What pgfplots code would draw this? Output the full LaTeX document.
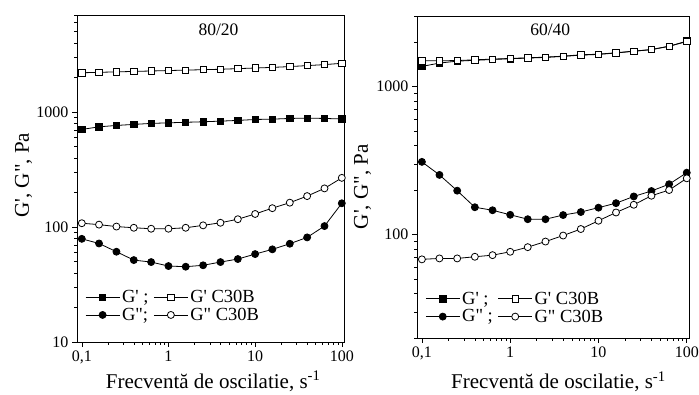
\documentclass[border=0pt]{standalone}
\usepackage{fontspec}
\setmainfont{Liberation Serif}
\usepackage{pgfplots}
\pgfplotsset{compat=1.18}
\newcommand\p{\textquotesingle}
\newcommand\q{\textquotedbl}
\tikzset{
  fsq/.style={mark=square*, mark size=3.2pt, mark options={fill=black, solid}},
  osq/.style={mark=square*, mark size=3.2pt, mark options={fill=white, solid}},
  fci/.style={mark=*, mark size=3.5pt, mark options={fill=black, solid}},
  oci/.style={mark=*, mark size=3.5pt, mark options={fill=white, solid}},
}
\begin{document}
\begin{tikzpicture}
\useasboundingbox (0pt,0pt) rectangle (699pt,394pt);
\begin{axis}[xmode=log, ymode=log, scale only axis,
    xmin=0.088, xmax=106,
    xtick={0.1,1,10,100}, xticklabels={{0,1},1,10,100},
    minor xtick={0.2,0.3,0.4,0.5,0.6,0.7,0.8,0.9,2,3,4,5,6,7,8,9,20,30,40,50,60,70,80,90},
    tick align=outside, xtick pos=left, ytick pos=left,
    major tick length=5pt, minor tick length=3pt,
    tick style={black, line width=0.6pt},
    axis line style={line width=0.9pt},
    every tick label/.append style={font=\fontsize{16}{18}\selectfont},
    label style={font=\fontsize{21}{24}\selectfont},
    xlabel={Frecventă de oscilatie, s\textsuperscript{-1}},
    ylabel={G\p, G\q, Pa},
    xlabel style={at={(axis description cs:0.51,-0.141)}, anchor=base},
    ylabel style={at={(axis description cs:-0.20,0.51)}, anchor=center},
    legend columns=2,
    legend cell align=left,
    legend style={draw=none, fill=none, inner sep=0pt, font=\fontsize{18.5}{21}\selectfont, anchor=north west,
      /tikz/every even column/.append style={column sep=3pt}, at={(0.03,0.165)}},
    legend image code/.code={\draw[mark repeat=2,mark phase=2] plot coordinates {(0pt,0pt) (17pt,0pt) (34pt,0pt)};},
    every axis plot/.append style={black, line width=0.8pt},
  at={(77pt,52pt)}, anchor=south west, width=267pt, height=327pt,
  ymin=10, ymax=7000, ytick={10,100,1000}, yticklabels={10,100,1000},
  minor ytick={20,30,40,50,60,70,80,90,200,300,400,500,600,700,800,900,2000,3000,4000,5000,6000,7000}]
\addplot[fsq] coordinates {(0.1,707)(0.158,745)(0.251,766)(0.398,782)(0.631,798)(1,807)(1.58,816)(2.51,824)(3.98,835)(6.31,847)(10,863)(15.8,869)(25.1,881)(39.8,887)(63.1,881)(100,872)};
\addlegendentry{G\p\ ;}
\addplot[osq] coordinates {(0.1,2200)(0.158,2220)(0.251,2240)(0.398,2260)(0.631,2280)(1,2300)(1.58,2320)(2.51,2340)(3.98,2360)(6.31,2390)(10,2420)(15.8,2450)(25.1,2490)(39.8,2540)(63.1,2590)(100,2660)};
\addlegendentry{G\p\ C30B}
\addplot[fci] coordinates {(0.1,79)(0.158,72)(0.251,61)(0.398,51.6)(0.631,49.6)(1,45.8)(1.58,45.2)(2.51,46.5)(3.98,49.6)(6.31,52.7)(10,58.2)(15.8,64)(25.1,71.6)(39.8,81.3)(63.1,102)(100,161)};
\addlegendentry{G\q;}
\addplot[oci] coordinates {(0.1,108)(0.158,105)(0.251,101)(0.398,98.6)(0.631,96.7)(1,96.7)(1.58,98.6)(2.51,103.5)(3.98,109)(6.31,117)(10,130)(15.8,146)(25.1,163)(39.8,186)(63.1,217)(100,268)};
\addlegendentry{G\q\ C30B}
\node[font=\fontsize{17.5}{20}\selectfont, anchor=north, inner sep=0pt] at (rel axis cs:0.53,0.975) {80/20};
\end{axis}
\begin{axis}[xmode=log, ymode=log, scale only axis,
    xmin=0.088, xmax=106,
    xtick={0.1,1,10,100}, xticklabels={{0,1},1,10,100},
    minor xtick={0.2,0.3,0.4,0.5,0.6,0.7,0.8,0.9,2,3,4,5,6,7,8,9,20,30,40,50,60,70,80,90},
    tick align=outside, xtick pos=left, ytick pos=left,
    major tick length=5pt, minor tick length=3pt,
    tick style={black, line width=0.6pt},
    axis line style={line width=0.9pt},
    every tick label/.append style={font=\fontsize{16}{18}\selectfont},
    label style={font=\fontsize{21}{24}\selectfont},
    xlabel={Frecventă de oscilatie, s\textsuperscript{-1}},
    ylabel={G\p, G\q, Pa},
    xlabel style={at={(axis description cs:0.52,-0.158)}, anchor=base},
    ylabel style={at={(axis description cs:-0.20,0.47)}, anchor=center},
    legend columns=2,
    legend cell align=left,
    legend style={draw=none, fill=none, inner sep=0pt, font=\fontsize{18.5}{21}\selectfont, anchor=north west,
      /tikz/every even column/.append style={column sep=3pt}, at={(0.03,0.15)}},
    legend image code/.code={\draw[mark repeat=2,mark phase=2] plot coordinates {(0pt,0pt) (17pt,0pt) (34pt,0pt)};},
    every axis plot/.append style={black, line width=0.8pt},
  at={(417pt,56pt)}, anchor=south west, width=272pt, height=322pt,
  ymin=20, ymax=3000, ytick={100,1000}, yticklabels={100,1000},
  minor ytick={20,30,40,50,60,70,80,90,200,300,400,500,600,700,800,900,2000,3000}]
\addplot[fsq] coordinates {(0.1,1369)(0.158,1442)(0.251,1486)(0.398,1505)(0.631,1525)(1,1542)(1.58,1558)(2.51,1575)(3.98,1600)(6.31,1632)(10,1650)(15.8,1688)(25.1,1733)(39.8,1778)(63.1,1872)(100,2030)};
\addlegendentry{G\p\ ;}
\addplot[osq] coordinates {(0.1,1494)(0.158,1494)(0.251,1500)(0.398,1517)(0.631,1534)(1,1550)(1.58,1565)(2.51,1582)(3.98,1606)(6.31,1640)(10,1656)(15.8,1692)(25.1,1737)(39.8,1780)(63.1,1875)(100,2015)};
\addlegendentry{G\p\ C30B}
\addplot[fci] coordinates {(0.1,310)(0.158,253)(0.251,198)(0.398,153)(0.631,146)(1,136)(1.58,127)(2.51,127)(3.98,135.5)(6.31,142)(10,152)(15.8,163)(25.1,181)(39.8,197)(63.1,219)(100,262)};
\addlegendentry{G\q\ ;}
\addplot[oci] coordinates {(0.1,68)(0.158,69)(0.251,69)(0.398,70.8)(0.631,72.6)(1,76.5)(1.58,82.2)(2.51,89.7)(3.98,98.5)(6.31,109)(10,124)(15.8,141)(25.1,159)(39.8,183)(63.1,200)(100,240)};
\addlegendentry{G\q\ C30B}
\node[font=\fontsize{17.5}{20}\selectfont, anchor=north, inner sep=0pt] at (rel axis cs:0.49,0.975) {60/40};
\end{axis}
\end{tikzpicture}
\end{document}
